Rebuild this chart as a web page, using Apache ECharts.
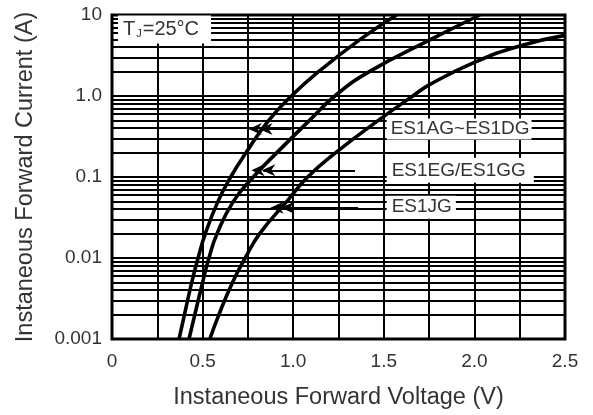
<!DOCTYPE html>
<html>
<head>
<meta charset="utf-8">
<script src="https://cdn.jsdelivr.net/npm/echarts@6/dist/echarts.min.js"></script>
<style>html,body{margin:0;padding:0;background:#fff}#c{width:593px;height:415px}</style>
</head>
<body>
<div id="c"></div>
<script>
// Forward voltage (V), forward current (A)
const curveAD = [[0.37,0.001],[0.40,0.002],[0.44,0.005],[0.475,0.01],[0.515,0.02],[0.585,0.05],[0.655,0.1],[0.74,0.2],[0.865,0.5],[0.99,1.0],[1.14,2.0],[1.37,5.0],[1.57,10]];
const curveEG = [[0.425,0.001],[0.457,0.002],[0.5,0.005],[0.535,0.01],[0.58,0.02],[0.67,0.05],[0.78,0.1],[0.91,0.2],[1.09,0.5],[1.23,1.0],[1.42,2.0],[1.76,5.0],[2.03,10]];
const curveJG = [[0.54,0.001],[0.59,0.002],[0.665,0.005],[0.735,0.01],[0.815,0.02],[0.965,0.05],[1.08,0.1],[1.235,0.2],[1.47,0.5],[1.66,1.0],[1.76,1.41],[2.0,2.6],[2.25,4.15],[2.5,5.6]];
const seriesNames = ['ES1AG~ES1DG','ES1EG/ES1GG','ES1JG'];
const xTickLabels = ['0','0.5','1.0','1.5','2.0','2.5'];
const yTickValues = [0.001,0.01,0.1,1,10];
const yTickLabels = ['0.001','0.01','0.1','1.0','10'];
// label anchors [x, y] in data units and arrow [xFrom, xTip, y]
const labelAnchors = [[1.516,0.39],[1.516,0.121],[1.516,0.0424]];
const arrows = [[0.99,0.82,0.39],[1.341,0.835,0.121],[1.358,0.94,0.0418]];
const tjAnchor = [0.033,6.6];

const minorValues = [];
for (let e = -3; e <= 0; e++) for (let m = 2; m <= 9; m++) minorValues.push(+(m*Math.pow(10,e)).toPrecision(3));

const arrowHead = 'path://M6 0 L12 10 L6 7 L0 10 Z M6 8 L12 18 L6 15 L0 18 Z';
const FONT = 'Liberation Sans, Arial, sans-serif';

const chart = echarts.init(document.getElementById('c'), null, {renderer:'canvas'});
const curveStyle = {color:'#000', width:3.6};
const mk = (d) => ({type:'line', data:d, showSymbol:false, symbol:'none', smooth:0.5, lineStyle:curveStyle, z:3, animation:false, silent:true});

chart.setOption({
  animation:false,
  backgroundColor:'#fff',
  grid:{left:112, right:28, top:15, bottom:73, show:true, borderColor:'#000', borderWidth:3, backgroundColor:'#fff'},
  xAxis:{
    type:'value', min:0, max:2.5, interval:0.25,
    name:'Instaneous Forward Voltage (V)', nameLocation:'middle', nameGap:47,
    nameTextStyle:{fontFamily:FONT, fontSize:23.5, color:'#333'},
    axisLine:{show:false}, axisTick:{show:false},
    axisLabel:{fontFamily:FONT, fontSize:19, color:'#333', margin:13,
      formatter:(v)=>{const k=v/0.5; return Math.abs(k-Math.round(k))<1e-6 ? xTickLabels[Math.round(k)] : '';}},
    splitLine:{show:true, lineStyle:{color:'#000', width:2}}
  },
  yAxis:{
    type:'log', logBase:10, min:0.001, max:10,
    name:'Instaneous Forward Current (A)', nameLocation:'middle', nameGap:74,
    nameTextStyle:{fontFamily:FONT, fontSize:23.5, color:'#333'},
    axisLine:{show:false}, axisTick:{show:false},
    axisLabel:{fontFamily:FONT, fontSize:19, color:'#333', margin:10,
      formatter:(v)=>{let i=yTickValues.findIndex(t=>Math.abs(Math.log10(t)-Math.log10(v))<1e-6); return i>=0?yTickLabels[i]:'';}},
    splitLine:{show:true, lineStyle:{color:'#000', width:2}}
  },
  series:[
    Object.assign(mk(curveAD), {name:seriesNames[0],
      markLine:{silent:true, symbol:'none', z:1, precision:8, animation:false, label:{show:false},
        lineStyle:{color:'#000', width:2, type:'solid'},
        data:minorValues.map(v=>({yAxis:v}))}}),
    Object.assign(mk(curveEG), {name:seriesNames[1],
      markLine:{silent:true, z:6, precision:8, animation:false, symbol:['none', arrowHead], symbolSize:[12,24], label:{show:false},
        lineStyle:{color:'#000', width:2, type:'solid'},
        data:arrows.map(a=>[{coord:[a[0],a[2]]},{coord:[a[1],a[2]]}])}}),
    Object.assign(mk(curveJG), {name:seriesNames[2],
      markPoint:{silent:true, z:10, animation:false, symbol:'rect', symbolSize:0,
        data: labelAnchors.map((p,i)=>({coord:p, value:seriesNames[i],
          label:{show:true, position:'inside', align:'left', verticalAlign:'middle', formatter:seriesNames[i],
            fontFamily:FONT, fontSize:19, color:'#333', backgroundColor:'#fff',
            padding: i===0?[1,2,1,4]:(i===1?[3,8,3,5]:[2,4,2,5])}})).concat([
          {coord:tjAnchor, value:'tj', label:{show:true, position:'inside', align:'left', verticalAlign:'middle',
            formatter:'{t|T}{s|J}{t|=25°C}', backgroundColor:'#fff', padding:[4,12,4,5],
            rich:{t:{fontFamily:FONT, fontSize:20, color:'#333'}, s:{fontFamily:FONT, fontSize:11, color:'#333', verticalAlign:'bottom', padding:[8,1,0,1]}}}}
        ])}})
  ]
});
</script>
</body>
</html>
